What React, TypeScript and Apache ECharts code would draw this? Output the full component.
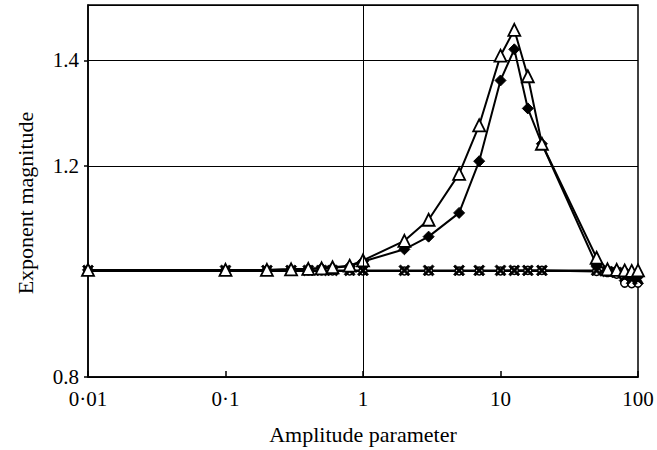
import React, { useEffect, useRef } from "react";
import * as echarts from "echarts";

const xValues = [0.01, 0.1, 0.2, 0.3, 0.4, 0.5, 0.6, 0.8, 1, 2, 3, 5, 7, 10, 12.6, 15.8, 20, 50, 60, 70, 80, 90, 100];
const triangleValues = [1.003, 1.003, 1.003, 1.004, 1.005, 1.006, 1.008, 1.011, 1.021, 1.058, 1.098, 1.185, 1.277, 1.409, 1.458, 1.37, 1.242, 1.026, 1.004, 1.003, 1.002, 1.001, 1.002];
const diamondValues = [1.003, 1.003, 1.003, 1.004, 1.005, 1.006, 1.007, 1.01, 1.019, 1.042, 1.066, 1.111, 1.209, 1.362, 1.421, 1.309, 1.242, 1.012, 1.003, 1.002, 1.0, 0.995, 0.99];
const crossValues = [1.002, 1.002, 1.002, 1.002, 1.002, 1.002, 1.002, 1.002, 1.002, 1.002, 1.002, 1.002, 1.002, 1.002, 1.002, 1.002, 1.002, 1.002, 1.0, 0.998, 0.99, 0.985, 0.985];
const circleValues = [1.001, 1.001, 1.001, 1.001, 1.001, 1.001, 1.001, 1.001, 1.001, 1.001, 1.001, 1.001, 1.001, 1.001, 1.002, 1.002, 1.002, 1.0, 0.998, 0.995, 0.978, 0.977, 0.978];

const xTickLabels: Record<string, string> = { "0.01": "0·01", "0.1": "0·1", "1": "1", "10": "10", "100": "100" };
const yTickLabels = [0.8, 1.2, 1.4];

const FONT = "Liberation Serif";
const crossPath = "path://M0,1.5L1.5,0L5,3.5L8.5,0L10,1.5L6.5,5L10,8.5L8.5,10L5,6.5L1.5,10L0,8.5L3.5,5Z";

const pairs = (ys: number[]) => xValues.map((x, i) => [x, ys[i]]);

export default function App() {
  const ref = useRef<HTMLDivElement>(null);
  useEffect(() => {
    if (!ref.current) return;
    const chart = echarts.init(ref.current, null, { renderer: "svg" });
    const lineStyle = { color: "#000", width: 2 };
    chart.setOption({
      animation: false,
      backgroundColor: "#fff",
      grid: { left: 88, right: 19, top: 5, bottom: 69, show: true, borderColor: "#000", borderWidth: 1.5 },
      xAxis: {
        type: "log",
        logBase: 10,
        min: 0.01,
        max: 100,
        name: "Amplitude parameter",
        nameLocation: "middle",
        nameGap: 46,
        nameTextStyle: { fontFamily: FONT, fontSize: 22, color: "#000" },
        axisLine: { show: true, lineStyle: { color: "#000", width: 1.5 } },
        axisTick: { show: true, inside: true, length: 6, lineStyle: { color: "#000", width: 1.5 } },
        minorTick: { show: false },
        splitLine: { show: false },
        axisLabel: {
          fontFamily: FONT,
          fontSize: 21,
          color: "#000",
          margin: 11,
          formatter: (v: number) => {
            const k = String(+Number(v).toPrecision(3));
            return xTickLabels[k] ?? "";
          },
        },
      },
      yAxis: {
        type: "value",
        min: 0.8,
        max: 1.505,
        interval: 0.2,
        name: "Exponent magnitude",
        nameLocation: "middle",
        nameGap: 52,
        nameTextStyle: { fontFamily: FONT, fontSize: 22, color: "#000", padding: [0, 24, 0, 0] },
        axisLine: { show: true, lineStyle: { color: "#000", width: 1.5 } },
        axisTick: { show: true, length: 4, lineStyle: { color: "#000", width: 1.5 } },
        splitLine: { show: true, lineStyle: { color: "#000", width: 1 } },
        axisLabel: {
          fontFamily: FONT,
          fontSize: 21,
          color: "#000",
          margin: 9,
          showMaxLabel: false,
          formatter: (v: number) => {
            const hit = yTickLabels.find((t) => Math.abs(t - v) < 1e-6);
            return hit !== undefined ? hit.toFixed(1) : "";
          },
        },
      },
      series: [
        {
          type: "line",
          name: "circles",
          data: pairs(circleValues),
          symbol: "circle",
          symbolSize: 8,
          lineStyle,
          itemStyle: { color: "#fff", borderColor: "#000", borderWidth: 1.5 },
          markLine: {
            silent: true,
            symbol: "none",
            label: { show: false },
            lineStyle: { color: "#000", width: 1, type: "solid" },
            data: [{ xAxis: 1 }],
          },
        },
        {
          type: "line",
          name: "crosses",
          data: pairs(crossValues),
          symbol: crossPath,
          symbolSize: 11,
          lineStyle,
          itemStyle: { color: "#000", borderColor: "#000", borderWidth: 0.8 },
        },
        {
          type: "line",
          name: "diamonds",
          data: pairs(diamondValues),
          symbol: "diamond",
          symbolSize: 11,
          lineStyle,
          itemStyle: { color: "#000", borderColor: "#000", borderWidth: 1 },
        },
        {
          type: "line",
          name: "triangles",
          data: pairs(triangleValues),
          symbol: "triangle",
          symbolSize: 12,
          lineStyle,
          itemStyle: { color: "#fff", borderColor: "#000", borderWidth: 1.8 },
        },
      ],
    });
    return () => chart.dispose();
  }, []);
  return <div ref={ref} style={{ width: 657, height: 450, position: "absolute", left: 0, top: 0 }} />;
}
